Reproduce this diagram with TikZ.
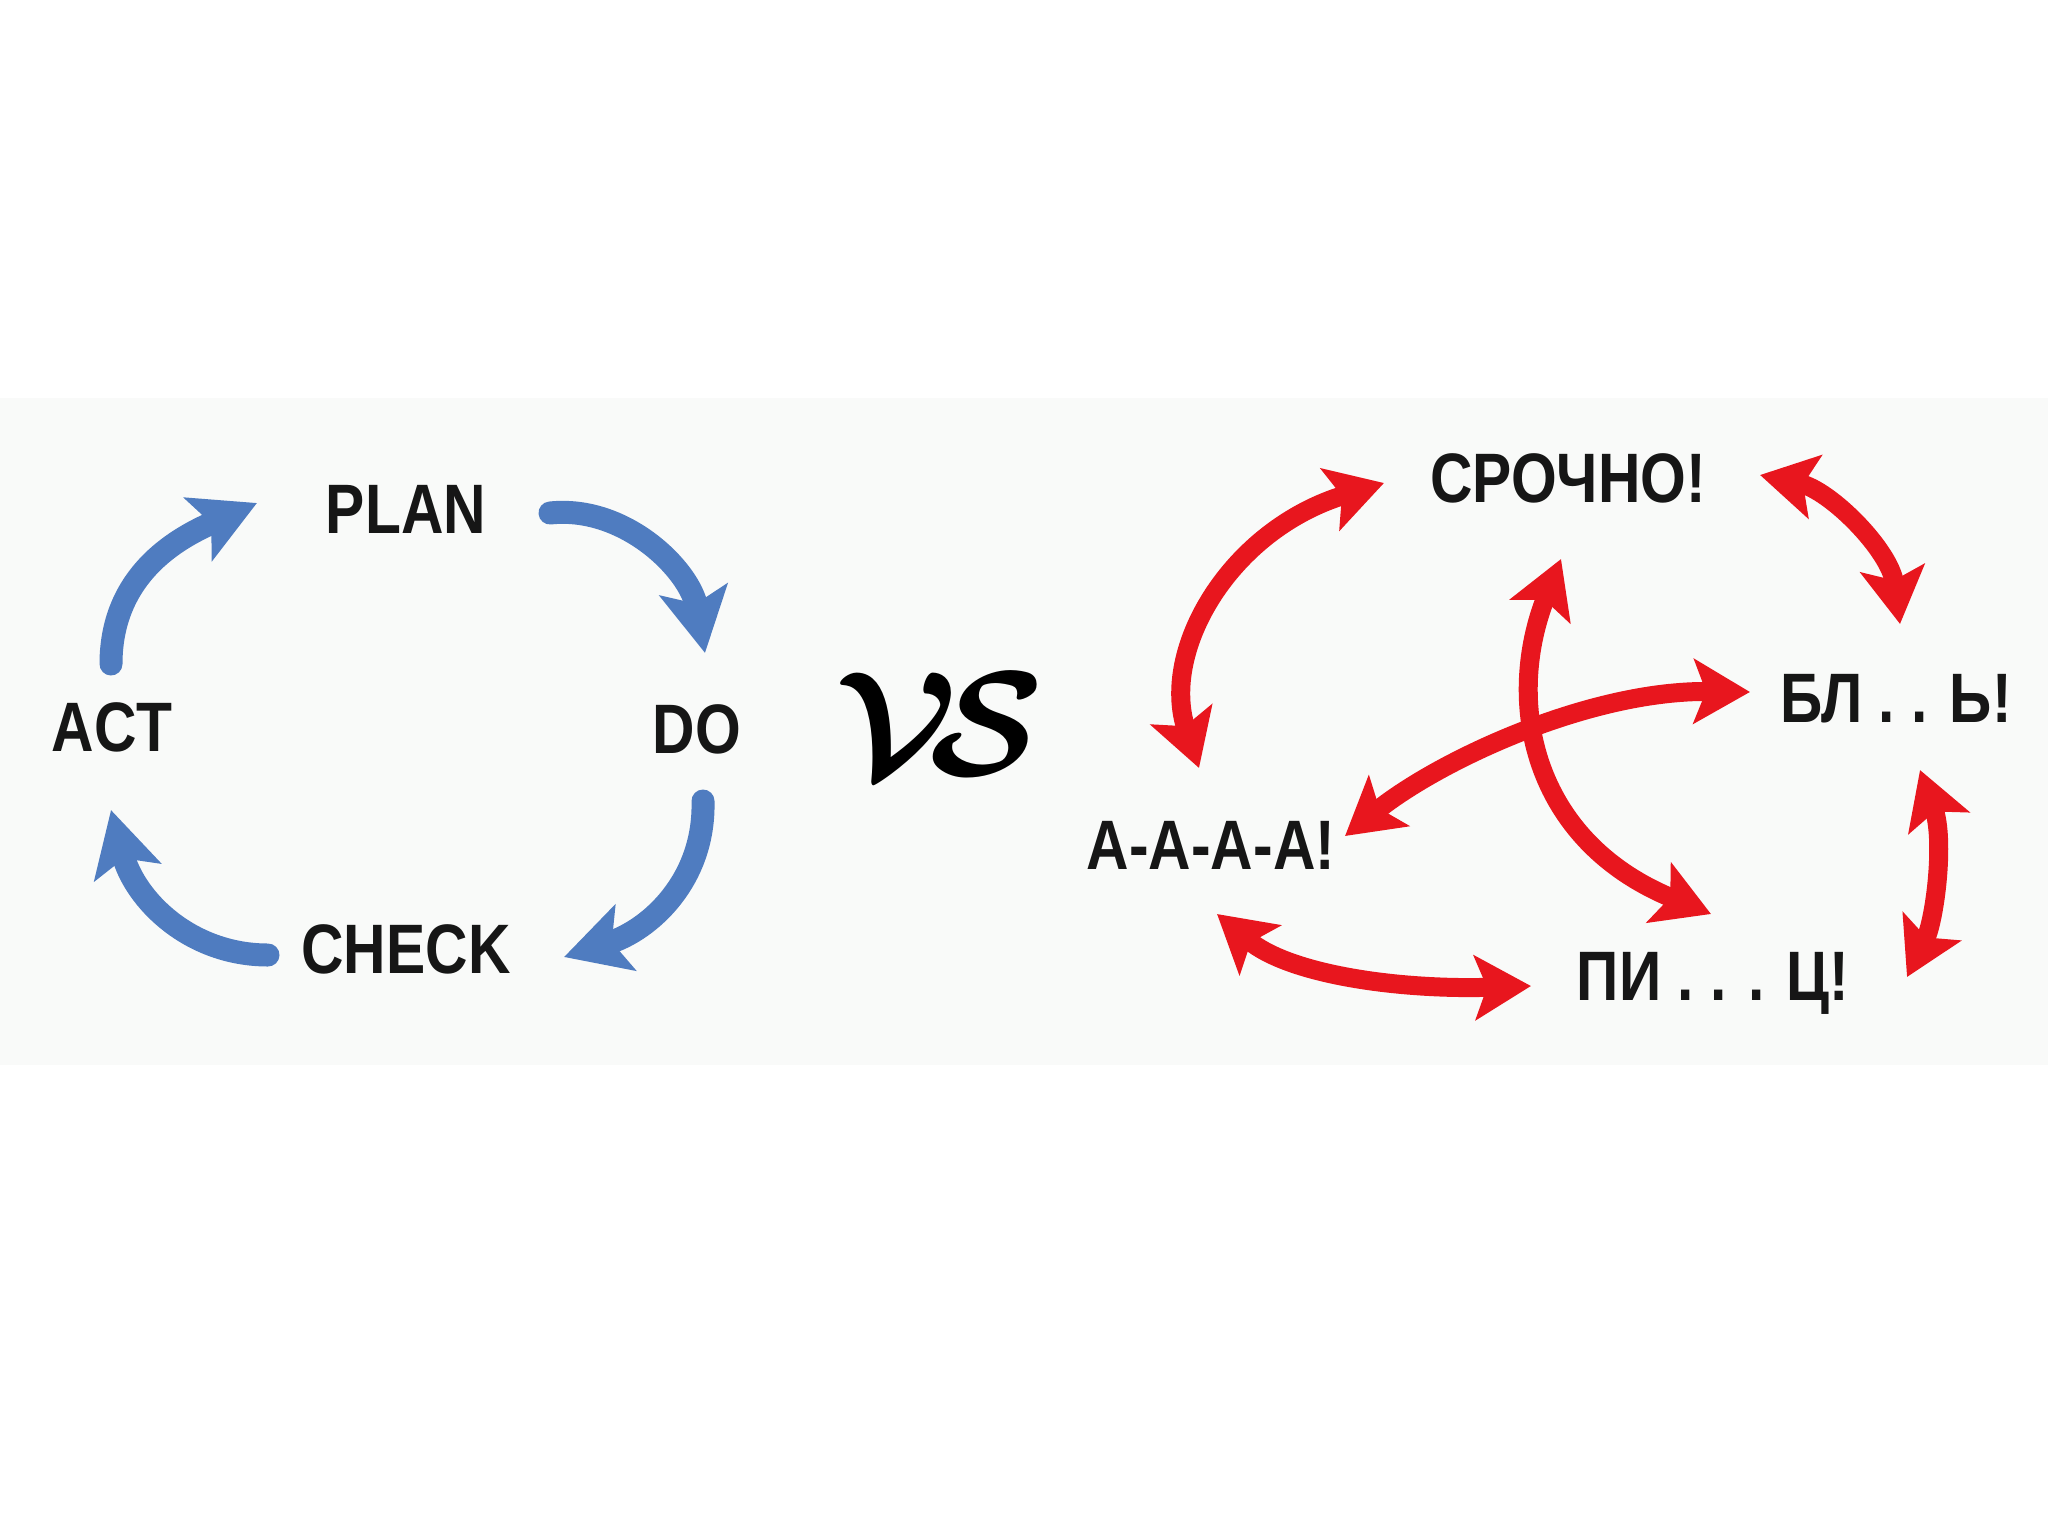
\documentclass[tikz,border=0pt]{standalone}
\usepackage{amsmath}
\usepackage{fontspec}
\usetikzlibrary{arrows.meta}
\newfontfamily\lblfont{Liberation Sans}
\definecolor{pdcablue}{RGB}{79,124,192}
\definecolor{chaosred}{RGB}{232,22,30}
\definecolor{bandgray}{RGB}{249,250,249}
\definecolor{txtc}{RGB}{22,22,22}
\tikzset{
 lbl/.style={font={\lblfont\bfseries\fontsize{35}{40}\selectfont}, text=txtc, inner sep=0pt, xscale=0.84},
 bluearr/.style={draw=pdcablue, line width=11.5pt, line cap=round, -{Stealth[length=32pt,width=34pt,inset=7pt]}},
 redarr/.style={draw=chaosred, line width=9.5pt, {Stealth[length=28pt,width=32pt,inset=6pt]}-{Stealth[length=28pt,width=32pt,inset=6pt]}},
}
\begin{document}
\begin{tikzpicture}[x=0.5pt,y=-0.5pt]
\useasboundingbox (0,0) rectangle (2048,1536);
\fill[white] (0,0) rectangle (2048,1536);
\fill[bandgray] (0,398) rectangle (2048,1065);

% PDCA labels
\node[lbl] (plan)  at (406,509) {PLAN};
\node[lbl] (do)    at (697,729) {DO};
\node[lbl] (act)   at (112,727) {ACT};
\node[lbl] (check) at (406,949) {CHECK};

% PDCA arrow ends
\coordinate (a1s) at (111,664);
\coordinate (a1e) at (257,503);
\coordinate (a2s) at (550,513);
\coordinate (a2e) at (705,653);
\coordinate (a3s) at (703,801);
\coordinate (a3e) at (564,957);
\coordinate (a4s) at (268,955);
\coordinate (a4e) at (111,810);

\draw[bluearr] (a1s) .. controls (111,570) and (185,535) .. (a1e);
\draw[bluearr] (a2s) .. controls (625,505) and (690,570) .. (a2e);
\draw[bluearr] (a3s) .. controls (705,880) and (650,930) .. (a3e);
\draw[bluearr] (a4s) .. controls (190,955) and (135,900) .. (a4e);

% vs
\node[scale=3.0, text=black] (vs) at (940,724) {\fontsize{24.88}{30}\selectfont$\boldsymbol{\mathcal{V}\!\mathcal{S}}$};

% chaos labels
\node[lbl] (srochno) at (1568,478) {СРОЧНО!};
\node[lbl] (blya)    at (1896,699) {БЛ . . Ь!};
\node[lbl] (aaaa)    at (1211,845) {А-А-А-А!};
\node[lbl] (pits)    at (1713,983) {ПИ . . . Ц!};

% chaos arrow ends
\coordinate (r1s) at (1384,483);
\coordinate (r1e) at (1199,768);
\coordinate (r2s) at (1760,475);
\coordinate (r2e) at (1900,624);
\coordinate (r3s) at (1920,770);
\coordinate (r3e) at (1907,977);
\coordinate (r4s) at (1217,914);
\coordinate (r4e) at (1531,986);
\coordinate (r5s) at (1561,559);
\coordinate (r5e) at (1711,914);
\coordinate (r6s) at (1750,692);
\coordinate (r6e) at (1345,836);

\draw[redarr] (r1s) .. controls (1230,530) and (1160,650) .. (r1e);
\draw[redarr] (r2s) .. controls (1830,490) and (1890,550) .. (r2e);
\draw[redarr] (r3s) .. controls (1945,840) and (1935,920) .. (r3e);
\draw[redarr] (r4s) .. controls (1290,975) and (1400,990) .. (r4e);
\draw[redarr] (r5s) .. controls (1505,700) and (1530,840) .. (r5e);
\draw[redarr] (r6s) .. controls (1590,690) and (1440,760) .. (r6e);
\end{tikzpicture}
\end{document}
